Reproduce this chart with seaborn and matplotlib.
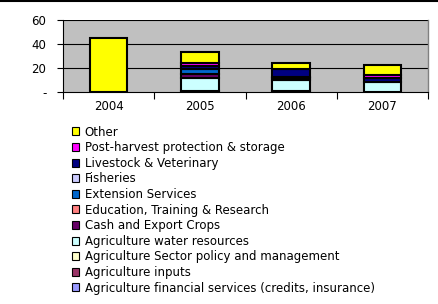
import numpy as np
import pandas as pd
import matplotlib
matplotlib.use("Agg")
import matplotlib.pyplot as plt
import seaborn as sns
from matplotlib.patches import Patch
from matplotlib.lines import Line2D

# data (stack order: bottom -> top)
years = ['2004', '2005', '2006', '2007']
financial = [0, 0, 0, 0]
inputs = [0, 1.2, 1.2, 0]
policy = [0, 0, 0, 0]
water = [0, 10.3, 9.3, 8.5]
cash_crops = [0, 3.3, 1.0, 0]
education = [0, 0, 0, 0]
extension = [0, 4.6, 1.5, 0]
fisheries = [0, 0, 0, 0]
livestock = [0, 2.0, 6.0, 3.6]
post_harvest = [0, 2.5, 0, 2.0]
other = [45.0, 9.2, 5.5, 8.2]

series = [
    ('Agriculture financial services (credits, insurance)', financial, '#9999FF'),
    ('Agriculture inputs', inputs, '#993366'),
    ('Agriculture Sector policy and management', policy, '#FFFFCC'),
    ('Agriculture water resources', water, '#CCFFFF'),
    ('Cash and Export Crops', cash_crops, '#660066'),
    ('Education, Training & Research', education, '#FF8080'),
    ('Extension Services', extension, '#0066CC'),
    ('Fisheries', fisheries, '#CCCCFF'),
    ('Livestock & Veterinary', livestock, '#000080'),
    ('Post-harvest protection & storage', post_harvest, '#FF00FF'),
    ('Other', other, '#FFFF00'),
]

sns.set_theme(style="white")
plt.rcParams['font.family'] = ['DejaVu Sans']
plt.rcParams['text.color'] = 'black'

fig = plt.figure(figsize=(4.39, 3.04), dpi=100)
ax = fig.add_axes([0.1435, 0.697, 0.8315, 0.237])
ax.set_facecolor('#C0C0C0')

bottom = np.zeros(len(years))
for name, vals, color in series:
    vals = np.array(vals, dtype=float)
    mask = vals > 0
    if mask.any():
        df = pd.DataFrame({'year': np.array(years)[mask], 'value': vals[mask]})
        sns.barplot(data=df, x='year', y='value', order=years, color=color,
                    bottom=bottom[mask], width=0.41, edgecolor='black',
                    linewidth=1.5, saturation=1, errorbar=None, ax=ax, zorder=3)
    bottom += vals

ax.set_xlim(-0.5, 3.5)
ax.set_ylim(0, 60)
ax.set_yticks([0, 20, 40, 60])
ax.set_yticklabels(['-', '20', '40', '60'])
ax.set_xlabel('')
ax.set_ylabel('')
for y in [20, 40, 60]:
    ax.axhline(y, color='black', lw=0.8, zorder=1)

# category boundary ticks
ax.set_xticks([-0.5, 0.5, 1.5, 2.5, 3.5], minor=True)
ax.tick_params(axis='x', which='minor', length=5, width=0.8, color='black', direction='out', bottom=True)
ax.tick_params(axis='x', which='major', length=0, labelsize=8.5, pad=6, colors='black')
ax.tick_params(axis='y', length=4, width=0.8, color='black', direction='out', left=True,
               labelsize=8.5, pad=8, colors='black')

for s in ['left', 'bottom']:
    ax.spines[s].set_color('black')
    ax.spines[s].set_linewidth(0.8)
ax.spines['top'].set_visible(False)
ax.spines['right'].set_color('#808080')
ax.spines['right'].set_linewidth(1.0)

handles = [Patch(facecolor=c, edgecolor='black', linewidth=0.8, label=n)
           for n, v, c in reversed(series)]
fig.legend(handles=handles, loc='upper left', bbox_to_anchor=(0.163, 0.587),
           frameon=False, fontsize=8.5, handlelength=0.65, handleheight=0.65,
           handletextpad=0.45, labelspacing=0.22, borderaxespad=0, borderpad=0)

fig.add_artist(Line2D([0, 1], [0.996, 0.996], color='black', lw=1.5,
                      transform=fig.transFigure))

fig.savefig('out.png', dpi=100)
